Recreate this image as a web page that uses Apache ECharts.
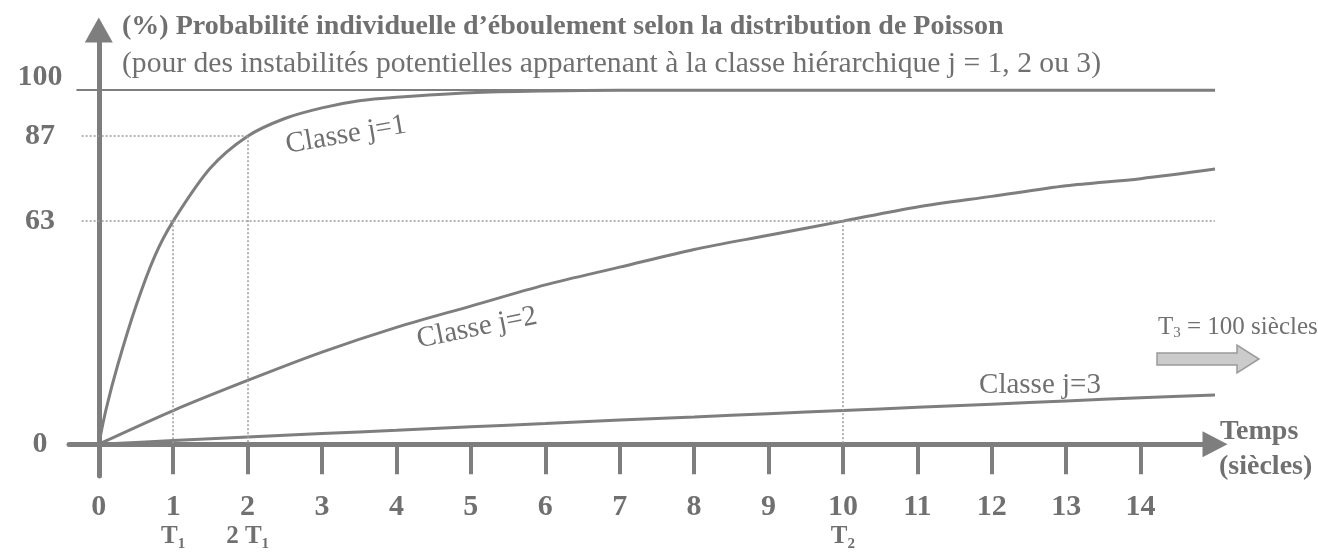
<!DOCTYPE html>
<html>
<head>
<meta charset="utf-8">
<script src="https://cdn.jsdelivr.net/npm/echarts@6/dist/echarts.min.js"></script>
<style>
  html, body { margin: 0; padding: 0; background: #fff; }
  #chart { width: 1318px; height: 554px; }
</style>
</head>
<body>
<div id="chart"></div>
<script>
// temps (siècles) -> probabilité (%)
const xTicks = [0, 1, 2, 3, 4, 5, 6, 7, 8, 9, 10, 11, 12, 13, 14]
const yTicks = [0, 63, 87, 100]
const classe1 = [[0, 0], [0.1, 10], [0.25, 22], [0.5, 39], [0.75, 53], [1, 63], [1.5, 78], [2, 87], [2.5, 92], [3, 95], [3.5, 97], [4, 98], [5, 99.3], [6, 99.8], [7, 100], [15, 100]]
const classe2 = [[0, 0], [1, 9.5], [2, 18], [3, 26], [4, 33], [5, 39], [6, 45], [7, 50], [8, 55], [9, 59], [10, 63], [11, 67], [12, 70], [13, 73], [14, 75], [15, 77.7]]
const classe3 = [[0, 0], [1, 1], [2, 2], [3, 3], [4, 3.9], [5, 4.9], [6, 5.8], [7, 6.8], [8, 7.7], [9, 8.6], [10, 9.5], [11, 10.4], [12, 11.3], [13, 12.2], [14, 13.1], [15, 13.9]]
// lignes de repère pointillées
const guides = [
  [[-0.23, 63], [15, 63]],
  [[-0.23, 87], [2, 87]],
  [[1, 63], [1, 0]],
  [[2, 87], [2, 0]],
  [[10, 63], [10, 0]],
]

const GRAY = '#7e7e7e'
const TXT = '#707070'
const SERIF = '"Liberation Serif", "DejaVu Serif", serif'

const chart = echarts.init(document.getElementById('chart'))

const curve = (data) => ({
  type: 'line',
  data,
  smooth: 0.3,
  showSymbol: false,
  silent: true,
  clip: false,
  lineStyle: { color: GRAY, width: 3 },
})

const option = {
  backgroundColor: '#fff',
  animation: false,
  grid: { left: 69, right: 103, top: 30, bottom: 78, containLabel: false, outerBoundsMode: 'none' },
  xAxis: {
    type: 'value',
    min: -0.4,
    max: 15,
    axisLine: {
      onZero: true,
      symbol: ['none', 'triangle'],
      symbolSize: [26, 25],
      lineStyle: { color: GRAY, width: 5 },
    },
    axisTick: { customValues: xTicks, length: 30, lineStyle: { color: GRAY, width: 4 } },
    axisLabel: {
      customValues: xTicks,
      margin: 15,
      color: TXT,
      fontFamily: SERIF,
      fontSize: 30,
      fontWeight: 'bold',
      lineHeight: 32,
      formatter: (v) => {
        if (v === 1) return '1\n{s|T}{sub|1}'
        if (v === 2) return '2\n{s|2 T}{sub|1}'
        if (v === 10) return '10\n{s|T}{sub|2}'
        return String(v)
      },
      rich: {
        s: { fontFamily: SERIF, fontSize: 25, fontWeight: 'bold', color: TXT, lineHeight: 28 },
        sub: { fontFamily: SERIF, fontSize: 15, fontWeight: 'bold', color: TXT, lineHeight: 28, padding: [14, 0, 0, 0] },
      },
    },
    splitLine: { show: false },
  },
  yAxis: {
    type: 'value',
    min: -9,
    max: 117,
    axisLine: {
      onZero: true,
      symbol: ['none', 'triangle'],
      symbolSize: [28, 25],
      lineStyle: { color: GRAY, width: 5 },
    },
    axisTick: { show: false },
    axisLabel: {
      customValues: yTicks,
      align: 'center',
      margin: 29,
      color: TXT,
      fontFamily: SERIF,
      fontSize: 30,
      fontWeight: 'bold',
      formatter: (v) => (v === 100 ? '{up|100}' : String(v)),
      rich: {
        up: { fontFamily: SERIF, fontSize: 30, fontWeight: 'bold', color: TXT, padding: [0, 0, 26, 0] },
      },
    },
    splitLine: { show: false },
  },
  series: [
    {
      ...curve(classe1),
      markLine: {
        silent: true,
        symbol: 'none',
        label: { show: false },
        lineStyle: { color: GRAY, width: 2, type: 'solid' },
        data: [[{ coord: [-0.3, 100] }, { coord: [15, 100] }]],
      },
    },
    {
      ...curve(classe2),
      markLine: {
        silent: true,
        symbol: 'none',
        label: { show: false },
        lineStyle: { color: '#9a9a9a', width: 1.5, type: [2, 2] },
        data: guides.map(g => [{ coord: g[0] }, { coord: g[1] }]),
      },
    },
    curve(classe3),
  ],
  graphic: [
    {
      type: 'text', x: 122, y: 27,
      style: { text: '(%) Probabilité individuelle d’éboulement selon la distribution de Poisson', font: 'bold 28px ' + SERIF, fill: TXT, textVerticalAlign: 'middle' },
    },
    {
      type: 'text', x: 122, y: 64,
      style: { text: '(pour des instabilités potentielles appartenant à la classe hiérarchique j = 1, 2 ou 3)', font: '29.6px ' + SERIF, fill: TXT, textVerticalAlign: 'middle' },
    },
    {
      type: 'text', x: 346, y: 135, rotation: 0.17,
      style: { text: 'Classe j=1', font: '29px ' + SERIF, fill: TXT, textAlign: 'center', textVerticalAlign: 'middle' },
    },
    {
      type: 'text', x: 477, y: 328, rotation: 0.2,
      style: { text: 'Classe j=2', font: '29px ' + SERIF, fill: TXT, textAlign: 'center', textVerticalAlign: 'middle' },
    },
    {
      type: 'text', x: 1040, y: 385,
      style: { text: 'Classe j=3', font: '29px ' + SERIF, fill: TXT, textAlign: 'center', textVerticalAlign: 'middle' },
    },
    {
      type: 'text', x: 1158, y: 327,
      style: {
        text: '{t|T}{s|3}{t| = 100 siècles}',
        fill: TXT,
        textVerticalAlign: 'middle',
        rich: {
          t: { font: '25px ' + SERIF, fill: TXT },
          s: { font: '15px ' + SERIF, fill: TXT, padding: [12, 0, 0, 0] },
        },
      },
    },
    {
      type: 'polygon',
      shape: { points: [[1157, 353], [1237, 353], [1237, 345], [1259, 359], [1237, 373], [1237, 365], [1157, 365]] },
      style: { fill: '#cbcbcb', stroke: '#9a9a9a', lineWidth: 1.5 },
    },
    {
      type: 'text', x: 1220, y: 432,
      style: { text: 'Temps', font: 'bold 28px ' + SERIF, fill: TXT, textVerticalAlign: 'middle' },
    },
    {
      type: 'text', x: 1219, y: 467,
      style: { text: '(siècles)', font: 'bold 28px ' + SERIF, fill: TXT, textVerticalAlign: 'middle' },
    },
  ],
}

chart.setOption(option)
</script>
</body>
</html>
